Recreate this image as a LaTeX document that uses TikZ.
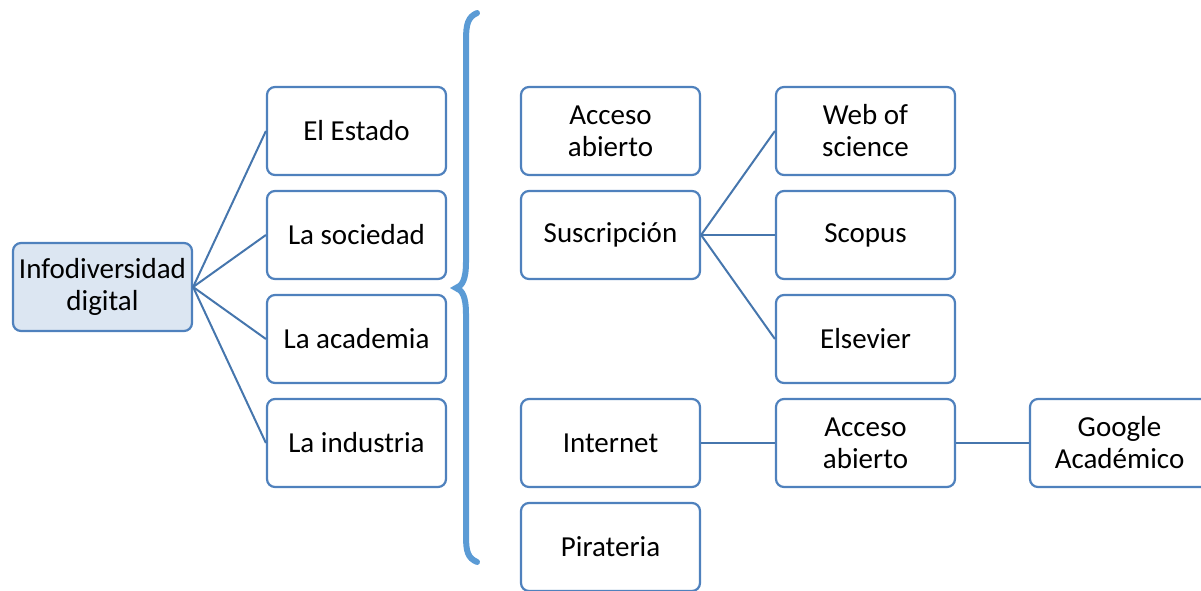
\documentclass[tikz,border=0pt]{standalone}
\usepackage{fontspec}
\setmainfont{Carlito}
\definecolor{boxline}{HTML}{4F81BD}
\definecolor{boxfill}{HTML}{DCE6F2}
\definecolor{linkline}{HTML}{4676AD}
\definecolor{bracecol}{HTML}{5B9BD5}
\tikzset{
  box/.style={draw=boxline, line width=2.2pt, rounded corners=8pt, fill=white,
    minimum width=179pt, minimum height=88pt, inner sep=0pt, align=center,
    font=\fontsize{29}{32}\selectfont},
  rootbox/.style={box, fill=boxfill},
  link/.style={draw=linkline, line width=2pt}
}
\begin{document}
\begin{tikzpicture}[x=1pt,y=-1pt]
            \useasboundingbox (0,0) rectangle (1201,590);
            \node[rootbox] (info) at (102.5,287) {Infodiversidad\\digital};
            \node[box] (estado) at (356.5,131) {El Estado};
            \node[box] (sociedad) at (356.5,235) {La sociedad};
            \node[box] (academia) at (356.5,339) {La academia};
            \node[box] (industria) at (356.5,443) {La industria};
            \node[box] (abierto) at (610.5,131) {Acceso\\abierto};
            \node[box] (suscr) at (610.5,235) {Suscripción};
            \node[box] (internet) at (610.5,443) {Internet};
            \node[box] (pirat) at (610.5,547) {Pirateria};
            \node[box] (wos) at (865.5,131) {Web of\\science};
            \node[box] (scopus) at (865.5,235) {Scopus};
            \node[box] (elsevier) at (865.5,339) {Elsevier};
            \node[box] (abierto2) at (865.5,443) {Acceso\\abierto};
            \node[box] (google) at (1119.5,443) {Google\\Académico};

            \draw[link] (info.east) to (estado.west); \draw[link] (info.east) to (sociedad.west);
            \draw[link] (info.east) to (academia.west); \draw[link] (info.east) to (industria.west);
            \draw[link] (suscr.east) to (wos.west); \draw[link] (suscr.east) to (scopus.west);
            \draw[link] (suscr.east) to (elsevier.west);
            \draw[link] (internet.east) to (abierto2.west); \draw[link] (abierto2.east) to (google.west);

            \draw[bracecol, line width=6pt, line cap=round]
              (477,13) .. controls (468,17) and (466,24) .. (466,40)
              -- (466,262) .. controls (466,280) and (462,286) .. (456,288)
              .. controls (462,290) and (466,296) .. (466,314)
              -- (466,536) .. controls (466,552) and (468,558) .. (477,562);
        \end{tikzpicture}
\end{document}
